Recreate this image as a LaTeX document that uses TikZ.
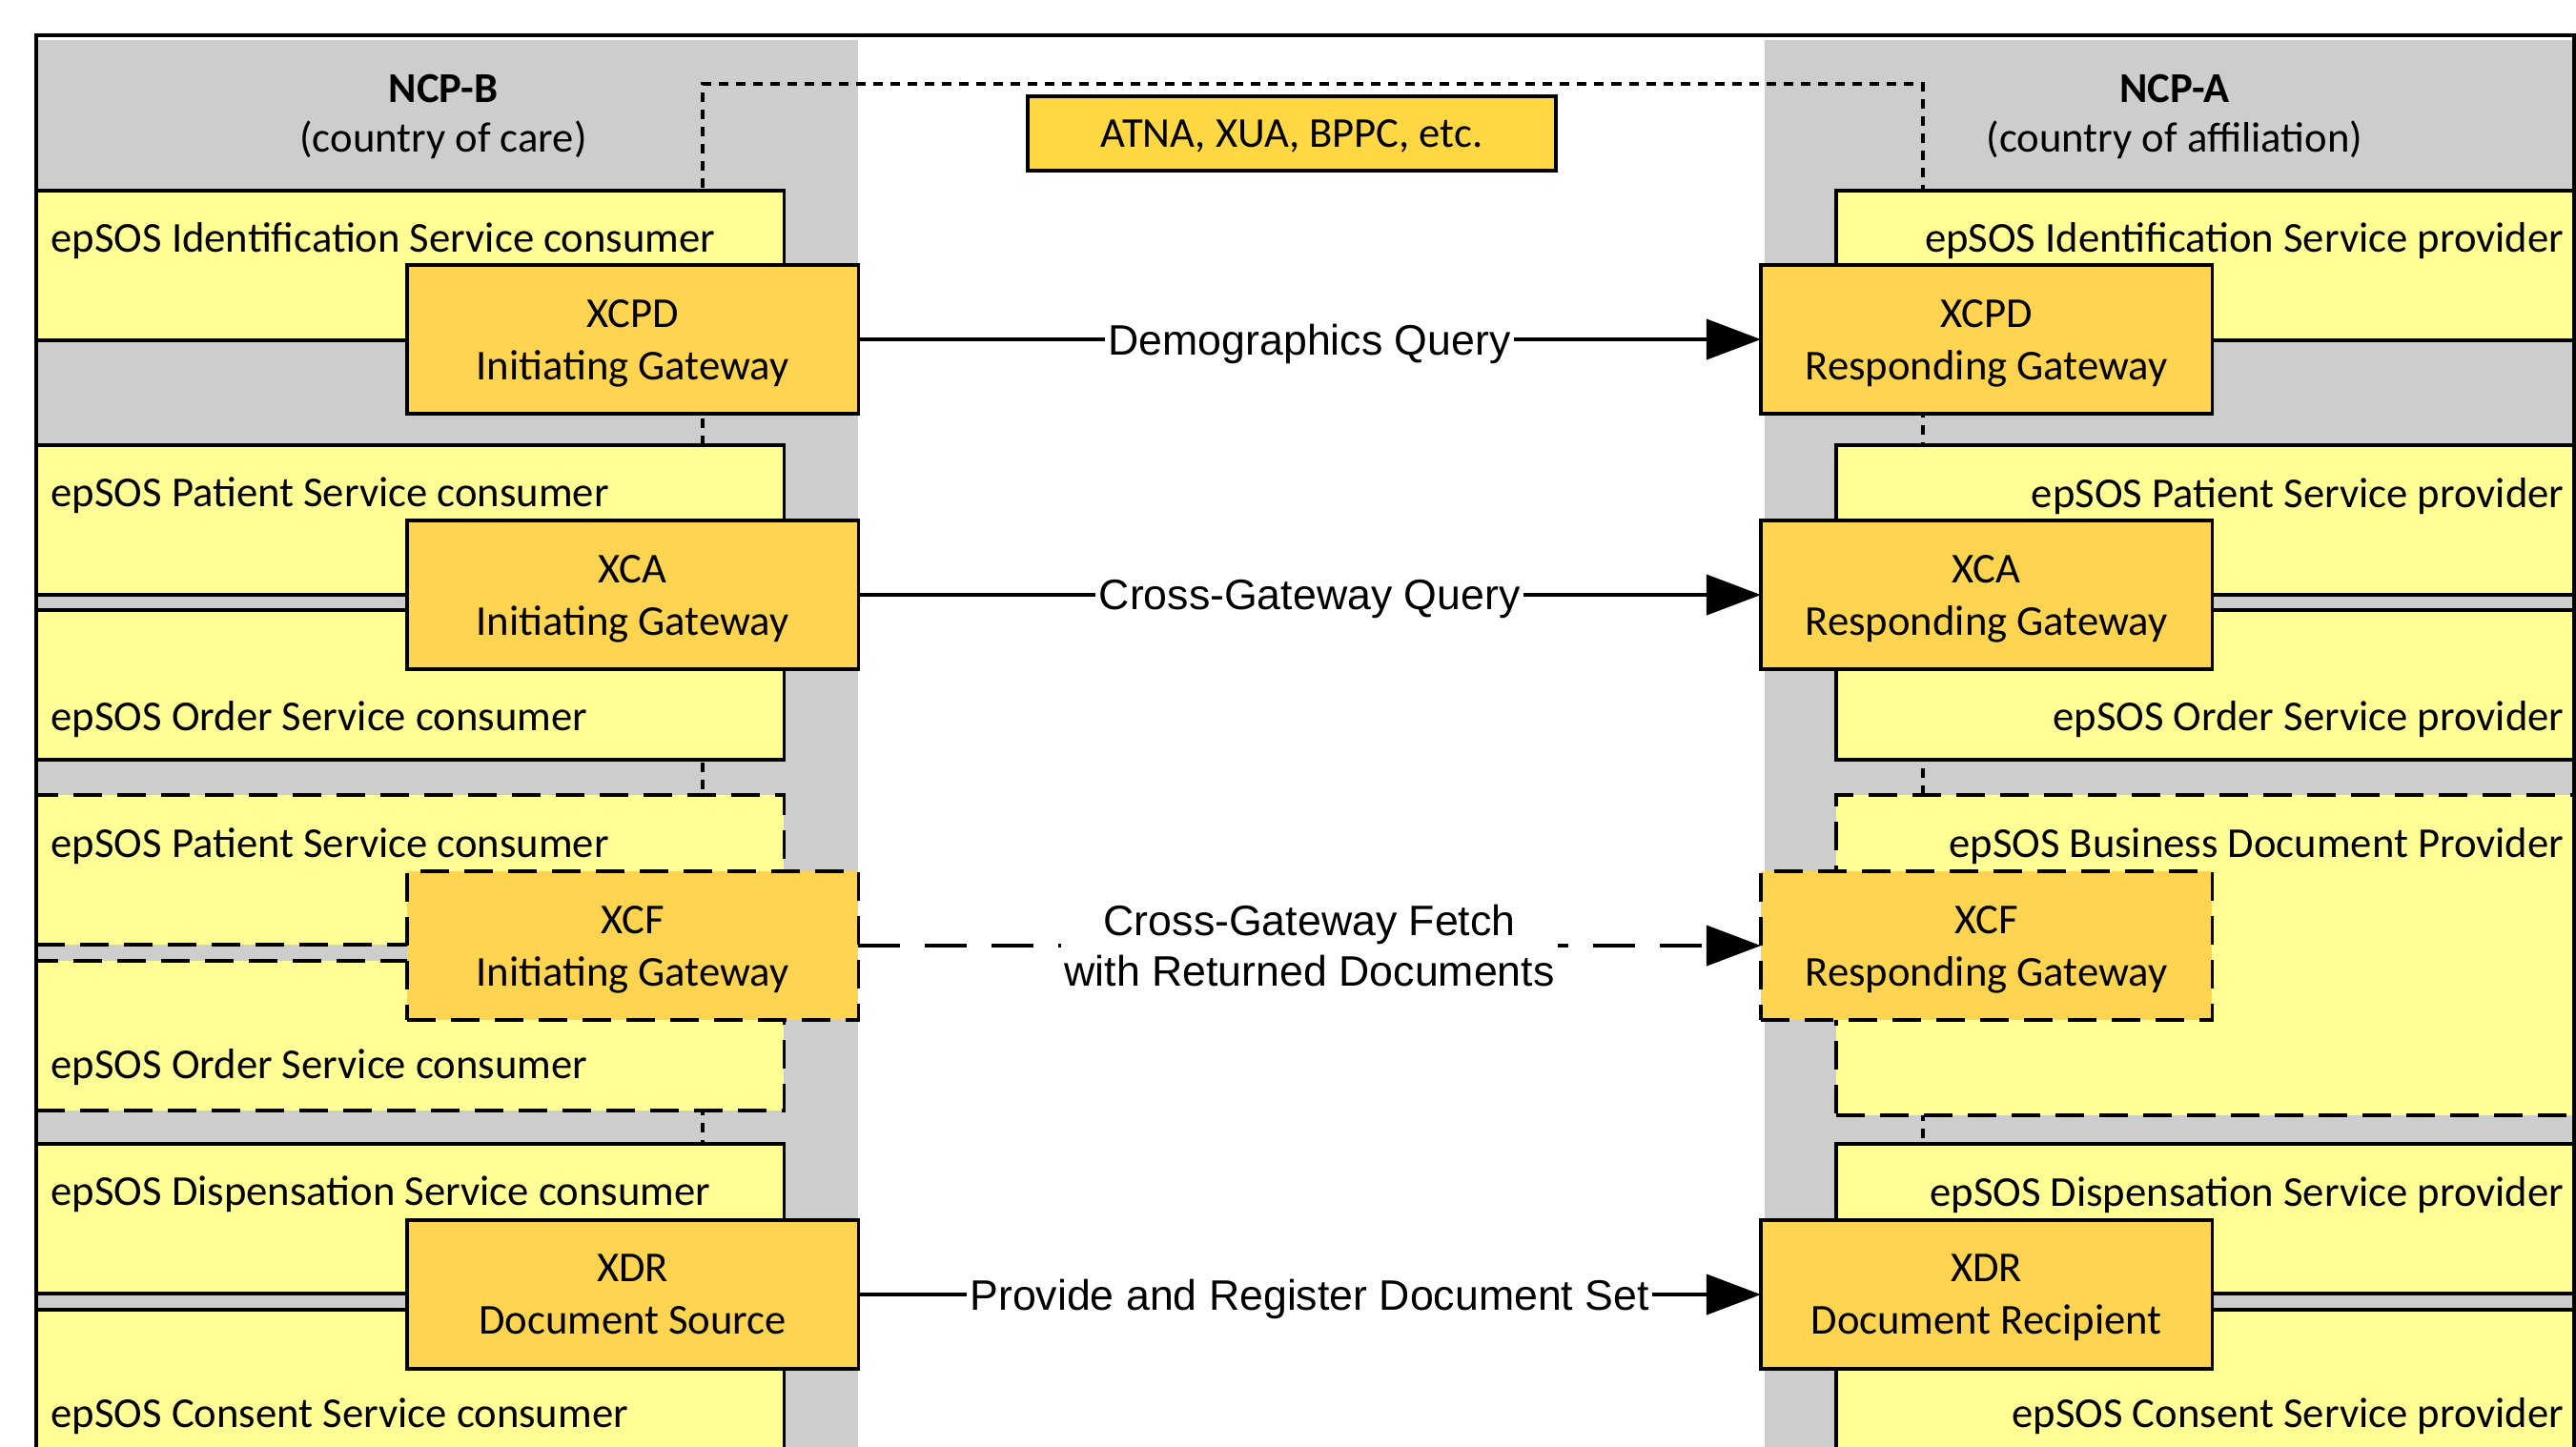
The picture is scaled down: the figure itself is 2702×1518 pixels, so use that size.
\documentclass[tikz,border=0pt]{standalone}
\usepackage{fontspec}
\setmainfont{Carlito}
\newfontfamily\arialf{Liberation Sans}
\usetikzlibrary{arrows.meta}
\definecolor{panelgray}{RGB}{205,205,205}
\definecolor{paleyel}{RGB}{255,255,150}
\definecolor{gold}{RGB}{255,212,80}
\definecolor{atnagold}{RGB}{255,216,68}
\begin{document}
\begin{tikzpicture}[x=0.01cm,y=-0.01cm,
  every node/.style={font=\fontsize{12.7pt}{15.6pt}\selectfont},
  svc/.style={draw=black, line width=1pt, fill=paleyel, inner sep=0pt, outer sep=0pt, anchor=north west, minimum height=1.57cm},
  svcl/.style={svc, minimum width=7.84cm},
  svcr/.style={svc, minimum width=7.84cm},
  dsh/.style={dash pattern=on 0.30cm off 0.16cm},
  gw/.style={draw=black, line width=1pt, fill=gold, inner sep=0pt, outer sep=0pt, anchor=north west, minimum width=4.73cm, minimum height=1.56cm, align=center, text depth=0pt, font=\fontsize{12.7pt}{15.65pt}\selectfont},
  txt/.style={inner sep=0pt},
  title/.style={align=center, inner sep=0pt, font=\fontsize{12.7pt}{14.8pt}\selectfont},
  flow/.style={line width=1.1pt, -{Triangle[length=0.57cm,width=0.42cm]}},
  lbl/.style={fill=white, inner sep=1pt, font=\arialf\fontsize{12.7pt}{15.1pt}\selectfont, align=center},
  dotline/.style={line width=1.1pt, dash pattern=on 0.10cm off 0.08cm},
]
\useasboundingbox (0,0) rectangle (2702,1518);
\clip (0,0) rectangle (2702,1518);
% panels
\fill[panelgray] (40,42) rectangle (900,1530);
\fill[panelgray] (1851,42) rectangle (2699,1530);
% dotted bus
\coordinate (busL) at (737,1530);
\coordinate (busTL) at (737,88);
\coordinate (busTR) at (2017,88);
\coordinate (busR) at (2017,1530);
\draw[dotline] (busL) -- (busTL) -- (busTR) -- (busR);
% left service boxes
\node[svcl] (L1) at (38,200) {};
\node[svcl] (L2) at (38,467) {};
\node[svcl] (L3) at (38,640) {};
\node[svcl,dsh] (L4) at (38,834) {};
\node[svcl,dsh] (L5) at (38,1008) {};
\node[svcl] (L6) at (38,1200) {};
\node[svcl] (L7) at (38,1374) {};
\node[txt,anchor=west] (tL1) at (53,253) {epSOS Identification Service consumer};
\node[txt,anchor=west] (tL2) at (53,520) {epSOS Patient Service consumer};
\node[txt,anchor=west] (tL3) at (53,755) {epSOS Order Service consumer};
\node[txt,anchor=west] (tL4) at (53,888) {epSOS Patient Service consumer};
\node[txt,anchor=west] (tL5) at (53,1120) {epSOS Order Service consumer};
\node[txt,anchor=west] (tL6) at (53,1253) {epSOS Dispensation Service consumer};
\node[txt,anchor=west] (tL7) at (53,1486) {epSOS Consent Service consumer};
% right service boxes
\node[svcr] (R1) at (1926,200) {};
\node[svcr] (R2) at (1926,467) {};
\node[svcr] (R3) at (1926,640) {};
\node[svcr,dsh,minimum height=3.36cm] (R4) at (1926,834) {};
\node[svcr] (R6) at (1926,1200) {};
\node[svcr] (R7) at (1926,1374) {};
\node[txt,anchor=east] (tR1) at (2690,253) {epSOS Identification Service provider};
\node[txt,anchor=east] (tR2) at (2690,521) {epSOS Patient Service provider};
\node[txt,anchor=east] (tR3) at (2690,755) {epSOS Order Service provider};
\node[txt,anchor=east] (tR4) at (2690,888) {epSOS Business Document Provider};
\node[txt,anchor=east] (tR6) at (2690,1254) {epSOS Dispensation Service provider};
\node[txt,anchor=east] (tR7) at (2690,1486) {epSOS Consent Service provider};
% gateways
\node[gw] (G1) at (427,278) {XCPD\\Initiating Gateway};
\node[gw] (G2) at (427,546) {XCA\\Initiating Gateway};
\node[gw,dsh] (G3) at (427,914) {XCF\\Initiating Gateway};
\node[gw] (G4) at (427,1280) {XDR\\Document Source};
\node[gw] (H1) at (1847,278) {XCPD\\Responding Gateway};
\node[gw] (H2) at (1847,546) {XCA\\Responding Gateway};
\node[gw,dsh] (H3) at (1847,914) {XCF\\Responding Gateway};
\node[gw] (H4) at (1847,1280) {XDR\\Document Recipient};
% ATNA
\node[draw=black, line width=1pt, fill=atnagold, inner sep=0pt, anchor=north west, minimum width=5.54cm, minimum height=0.78cm, text depth=0pt] (atna) at (1076,99) {ATNA, XUA, BPPC, etc.};
% titles
\node[title] (ncpb) at (465,122) {\textbf{NCP-B}\\(country of care)};
\node[title] (ncpa) at (2281,122) {\textbf{NCP-A}\\(country of affiliation)};
% flows
\draw[flow] (G1.east) -- node[lbl, text depth=0pt] (f1) {Demographics Query} (H1.west);
\draw[flow] (G2.east) -- node[lbl, text depth=0pt] (f2) {Cross-Gateway Query} (H2.west);
\draw[flow, dash pattern=on 0.44cm off 0.26cm] (G3.east) -- node[lbl] (f3) {Cross-Gateway Fetch\\with Returned Documents} (H3.west);
\draw[flow] (G4.east) -- node[lbl, text depth=0pt] (f4) {Provide and Register Document Set} (H4.west);
% frame
\draw[line width=0.9pt] (38,1540) -- (38,37) -- (2700,37) -- (2700,1540);
\end{tikzpicture}
\end{document}
